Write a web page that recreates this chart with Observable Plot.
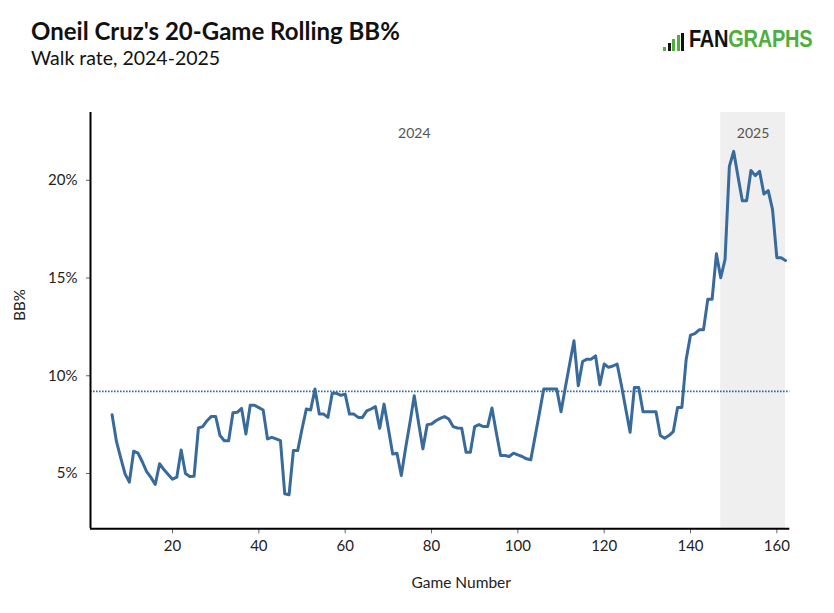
<!DOCTYPE html>
<html>
<head>
<meta charset="utf-8">
<script src="https://cdn.jsdelivr.net/npm/d3@7"></script>
<script src="https://cdn.jsdelivr.net/npm/@observablehq/plot@0.6"></script>
<style>
  html, body { margin: 0; padding: 0; background: #fff; }
  body { width: 834px; height: 613px; position: relative; overflow: hidden; font-family: Lato, "Noto Sans", sans-serif; }
  #header { position: relative; height: 90px; }
  #title { position: absolute; left: 31px; top: 18.5px; font-size: 24px; font-weight: 700; line-height: 1; color: #111; white-space: nowrap; }
  #subtitle { position: absolute; left: 31px; top: 47.5px; font-size: 19.5px; font-weight: 400; line-height: 1; color: #111; white-space: nowrap; }
  #logo { position: absolute; left: 663px; top: 27px; height: 24px; display: flex; align-items: flex-end; }
  #logo .bars { display: flex; align-items: flex-end; height: 18px; margin-right: 3px; }
  #logo .bars span { display: inline-block; width: 3px; background: #4fae3d; margin-right: 1.5px; }
  #logo .word { font-family: "Liberation Sans Narrow", "Liberation Sans", Arial, sans-serif; font-weight: 700; font-size: 23px; line-height: 1; letter-spacing: -0.3px; transform: scaleX(0.87); transform-origin: left bottom; display: inline-block; }
  #logo .fan { color: #111; }
  #logo .graphs { color: #4fae3d; }
  #chart { display: block; }
</style>
</head>
<body>
<div id="header">
  <div id="title">Oneil Cruz's 20-Game Rolling BB%</div>
  <div id="subtitle">Walk rate, 2024-2025</div>
  <div id="logo">
    <div class="bars"><span style="height:4px"></span><span style="height:8px;background:#111"></span><span style="height:12px"></span><span style="height:16px"></span><span style="height:18px;background:#111"></span></div>
    <div class="word"><span class="fan">FAN</span><span class="graphs">GRAPHS</span></div>
  </div>
</div>
<div id="chart"></div>
<script>
// ---- data ----
const firstGame = 6;
const bbPct = [
  8.0, 6.65, 5.8, 4.98, 4.56, 6.14, 6.04, 5.6, 5.1, 4.8,          // 6-15
  4.44, 5.5, 5.2, 4.95, 4.71, 4.81, 6.2, 5.0, 4.85, 4.86,         // 16-25
  7.33, 7.4, 7.7, 7.92, 7.92, 6.94, 6.68, 6.68, 8.11, 8.13,       // 26-35
  8.33, 7.02, 8.49, 8.49, 8.37, 8.25, 6.77, 6.85, 6.77, 6.68,     // 36-45
  3.96, 3.91, 6.17, 6.17, 7.28, 8.3, 8.25, 9.32, 8.04, 8.04,      // 46-55
  7.87, 9.1, 9.1, 9.0, 9.06, 8.04, 8.04, 7.87, 7.87, 8.2,         // 56-65
  8.3, 8.42, 7.31, 8.55, 7.3, 6.0, 6.04, 4.9, 6.3, 7.6,           // 66-75
  8.98, 7.6, 6.26, 7.5, 7.53, 7.7, 7.82, 7.91, 7.79, 7.4,         // 76-85
  7.33, 7.31, 6.09, 6.09, 7.4, 7.5, 7.4, 7.4, 8.35, 7.1,          // 86-95
  5.92, 5.92, 5.87, 6.04, 5.95, 5.87, 5.75, 5.7, 6.9, 8.1,        // 96-105
  9.32, 9.32, 9.32, 9.32, 8.16, 9.4, 10.6, 11.79, 9.49, 10.73,    // 106-115
  10.85, 10.85, 11.02, 9.54, 10.6, 10.43, 10.5, 10.6, 9.5, 8.3,   // 116-125
  7.11, 9.4, 9.4, 8.16, 8.16, 8.16, 8.16, 6.94, 6.8, 6.94,        // 126-135
  7.14, 8.38, 8.38, 10.85, 12.08, 12.16, 12.35, 12.35, 13.91, 13.91, // 136-145
  16.24, 15.02, 15.95, 20.71, 21.48, 20.2, 18.96, 18.96, 20.5, 20.24, // 146-155
  20.46, 19.3, 19.47, 18.5, 16.04, 16.04, 15.9                    // 156-162
];
const seasons = ["2024", "2025"];
const seasonStart = [6, 147];
const seasonEnd = [146, 162];
const careerAvg = [9.2];
const xDomain = [1, 163];
const yDomain = [2.17, 23.47];
const xTicks = [20, 40, 60, 80, 100, 120, 140, 160];
const yTicks = [5, 10, 15, 20];
const lineColor = "#386a9c";

const data = bbPct.map((v, i) => ({game: firstGame + i, bb: v}));
const seasonRows = seasons.map((s, i) => ({season: s, start: seasonStart[i], end: seasonEnd[i], mid: (seasonStart[i] + seasonEnd[i]) / 2}));

const chart = Plot.plot({
  width: 834,
  height: 523,
  marginTop: 22,
  marginBottom: 84.7,
  marginLeft: 90,
  marginRight: 44.7,
  x: {domain: xDomain},
  y: {domain: yDomain},
  style: {fontFamily: "Lato, sans-serif", fontSize: "15px", color: "#222", background: "#fff"},
  marks: [
    Plot.rect(seasonRows.filter(d => d.season === "2025"), {x1: "start", x2: "end", fill: "#efefef"}),
    Plot.ruleY(careerAvg, {stroke: lineColor, strokeWidth: 1.8, strokeDasharray: "1.6 1.4"}),
    Plot.line(data, {x: "game", y: "bb", stroke: lineColor, strokeWidth: 3, strokeLinejoin: "round"}),
    Plot.text(seasonRows, {x: "mid", text: "season", frameAnchor: "top", dy: 16, fill: "#555", fontSize: 14}),
    Plot.axisX({ticks: xTicks, tickSize: 5, tickPadding: 7, stroke: "#666", label: null, fill: "#222"}),
    Plot.axisY({ticks: yTicks, tickSize: 4, tickPadding: 9, tickFormat: d => d + "%", stroke: "#666", label: null, fill: "#222"}),
    Plot.ruleX([xDomain[0]], {stroke: "#000", strokeWidth: 2}),
    Plot.ruleY([yDomain[0]], {stroke: "#000", strokeWidth: 2}),
    Plot.text(["Game Number"], {frameAnchor: "bottom", dx: 21, dy: 59, fill: "#222", fontSize: 15.5}),
    Plot.text(["BB%"], {frameAnchor: "left", dx: -70, rotate: -90, fill: "#222", fontSize: 15})
  ]
});
document.getElementById("chart").appendChild(chart);
</script>
</body>
</html>
